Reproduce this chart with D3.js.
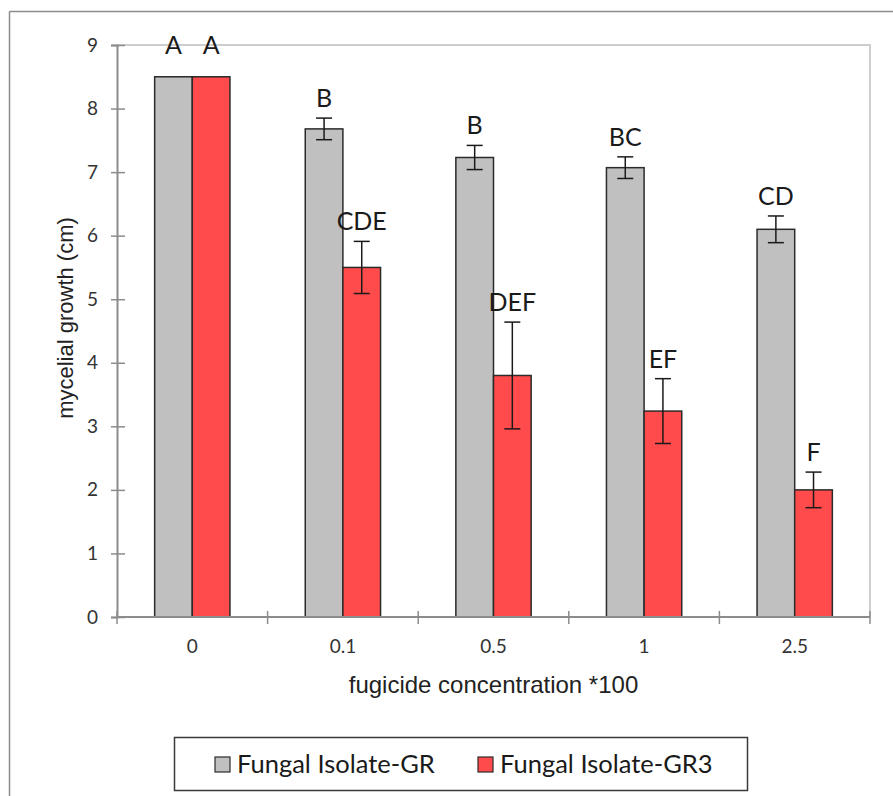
<!DOCTYPE html>
<html>
<head>
<meta charset="utf-8">
<script src="https://d3js.org/d3.v7.min.js"></script>
<style>
  body { margin: 0; background: #fff; }
  svg { display: block; }
</style>
</head>
<body>
<svg width="893" height="796"></svg>
<script>
// concentrations on the x axis
var categories = ["0", "0.1", "0.5", "1", "2.5"];
var seriesNames = ["Fungal Isolate-GR", "Fungal Isolate-GR3"];

// mean mycelial growth (cm)
var growthGR  = [8.5, 7.68, 7.23, 7.07, 6.10];
var growthGR3 = [8.5, 5.50, 3.80, 3.24, 2.00];

// error bar half widths
var errGR  = [0, 0.17, 0.19, 0.17, 0.21];
var errGR3 = [0, 0.41, 0.84, 0.51, 0.28];

// significance letters
var lettersGR  = ["A", "B", "B", "BC", "CD"];
var lettersGR3 = ["A", "CDE", "DEF", "EF", "F"];

var yTicks = [0, 1, 2, 3, 4, 5, 6, 7, 8, 9];

var colours = ["#c0c0c0", "#ff4b4b"];

var svg = d3.select("svg"),
    width = +svg.attr("width"),
    height = +svg.attr("height");

var margin = {left: 117, right: 23, top: 45, bottom: 179};
var plotW = width - margin.left - margin.right,
    plotH = height - margin.top - margin.bottom;

// outer chart border (only top and left show)
svg.append("line")
    .attr("x1", 9.5).attr("y1", 11.5).attr("x2", width).attr("y2", 11.5)
    .style("stroke", "#8c8c8c").style("stroke-width", 1.5);
svg.append("line")
    .attr("x1", 9.5).attr("y1", 11.5).attr("x2", 9.5).attr("y2", height)
    .style("stroke", "#8c8c8c").style("stroke-width", 1.5);

var g = svg.append("g")
    .attr("transform", "translate(" + margin.left + "," + margin.top + ")");

var x = d3.scaleBand()
    .domain(categories)
    .range([0, plotW]);

// two bars filling the middle half of each band
var x1 = d3.scaleBand()
    .domain([0, 1])
    .range([0, x.bandwidth()])
    .paddingOuter(1)
    .paddingInner(0);

var y = d3.scaleLinear()
    .domain([0, 9])
    .range([plotH, 0]);

// plot area frame (top and right, light grey)
g.append("path")
    .attr("d", "M0,0H" + plotW + "V" + plotH)
    .style("fill", "none")
    .style("stroke", "#cdcdcd")
    .style("stroke-width", 2);

// data rows
var rows = categories.map(function(c, i) {
    return [
        {cat: c, s: 0, v: growthGR[i], e: errGR[i], l: lettersGR[i]},
        {cat: c, s: 1, v: growthGR3[i], e: errGR3[i], l: lettersGR3[i]}
    ];
});
var bars = d3.merge(rows);

g.append("g")
    .selectAll("rect")
    .data(bars)
    .enter().append("rect")
    .attr("x", function(d) { return x(d.cat) + x1(d.s); })
    .attr("y", function(d) { return y(d.v); })
    .attr("width", x1.bandwidth())
    .attr("height", function(d) { return plotH - y(d.v); })
    .style("fill", function(d) { return colours[d.s]; })
    .style("stroke", "#2b2b2b")
    .style("stroke-width", 1.5);

// error bars
var errs = g.append("g")
    .selectAll("g")
    .data(bars.filter(function(d) { return d.e > 0; }))
    .enter().append("g")
    .attr("transform", function(d) {
        return "translate(" + (x(d.cat) + x1(d.s) + x1.bandwidth() / 2) + ",0)";
    })
    .style("stroke", "#1a1a1a")
    .style("stroke-width", 1.5);

errs.append("line")
    .attr("y1", function(d) { return y(d.v + d.e); })
    .attr("y2", function(d) { return y(d.v - d.e); });
errs.append("line")
    .attr("x1", -8).attr("x2", 8)
    .attr("y1", function(d) { return y(d.v + d.e); })
    .attr("y2", function(d) { return y(d.v + d.e); });
errs.append("line")
    .attr("x1", -8).attr("x2", 8)
    .attr("y1", function(d) { return y(d.v - d.e); })
    .attr("y2", function(d) { return y(d.v - d.e); });

// letters above bars
g.append("g")
    .selectAll("text")
    .data(bars)
    .enter().append("text")
    .attr("x", function(d) { return x(d.cat) + x1(d.s) + x1.bandwidth() / 2; })
    .attr("y", function(d) { return y(d.v + d.e) - (d.e > 0 ? 11 : 23); })
    .attr("text-anchor", "middle")
    .style("font-family", "Lato, 'Noto Sans', sans-serif")
    .style("font-size", "25px")
    .style("fill", "#1a1a1a")
    .text(function(d) { return d.l; });

// y axis
var yAxis = g.append("g")
    .call(d3.axisLeft(y).tickValues(yTicks).tickSize(6).tickPadding(13));
yAxis.select(".domain").style("stroke", "#8c8c8c").style("stroke-width", 2);
yAxis.selectAll(".tick line")
    .attr("x1", 8)
    .attr("x2", -6)
    .style("stroke", "#8c8c8c").style("stroke-width", 1.5);
yAxis.selectAll("text")
    .style("font-family", "Lato, sans-serif")
    .style("font-size", "19px")
    .style("fill", "#333");

// x axis with ticks at band edges
var xAxis = g.append("g")
    .attr("transform", "translate(0," + plotH + ")");
xAxis.append("line")
    .attr("x1", 0).attr("x2", plotW)
    .style("stroke", "#8c8c8c").style("stroke-width", 2);
var edges = categories.map(function(c) { return x(c); }).concat([plotW]);
xAxis.selectAll(".edge")
    .data(edges)
    .enter().append("line")
    .attr("class", "edge")
    .attr("x1", function(d) { return d; })
    .attr("x2", function(d) { return d; })
    .attr("y1", -6).attr("y2", 7)
    .style("stroke", "#8c8c8c").style("stroke-width", 1.5);
xAxis.selectAll(".lab")
    .data(categories)
    .enter().append("text")
    .attr("class", "lab")
    .attr("x", function(d) { return x(d) + x.bandwidth() / 2; })
    .attr("y", 36)
    .attr("text-anchor", "middle")
    .style("font-family", "Lato, sans-serif")
    .style("font-size", "19px")
    .style("fill", "#333")
    .text(function(d) { return d; });

// axis titles
svg.append("text")
    .attr("x", margin.left + plotW / 2)
    .attr("y", 693)
    .attr("text-anchor", "middle")
    .style("font-family", "'Liberation Sans', Arial, sans-serif")
    .style("font-size", "24px")
    .style("fill", "#222")
    .text("fugicide concentration  *100");

svg.append("text")
    .attr("transform", "translate(73,318) rotate(-90)")
    .attr("text-anchor", "middle")
    .style("font-family", "'Liberation Sans', Arial, sans-serif")
    .style("font-size", "22px")
    .style("fill", "#222")
    .text("mycelial growth (cm)");

// legend
var legend = svg.append("g");
legend.append("rect")
    .attr("x", 174.5).attr("y", 737.5)
    .attr("width", 573).attr("height", 53)
    .style("fill", "#fff")
    .style("stroke", "#3a3a3a")
    .style("stroke-width", 1.5);

var legX = [215, 478];
var items = legend.selectAll(".item")
    .data(seriesNames)
    .enter().append("g")
    .attr("class", "item")
    .attr("transform", function(d, i) { return "translate(" + legX[i] + ",757)"; });
items.append("rect")
    .attr("width", 15).attr("height", 15)
    .style("fill", function(d, i) { return colours[i]; })
    .style("stroke", "#2b2b2b")
    .style("stroke-width", 1.2);
items.append("text")
    .attr("x", 22)
    .attr("y", 16)
    .style("font-family", "Lato, sans-serif")
    .style("font-size", "25.5px")
    .style("fill", "#1a1a1a")
    .text(function(d) { return d; });
</script>
</body>
</html>
